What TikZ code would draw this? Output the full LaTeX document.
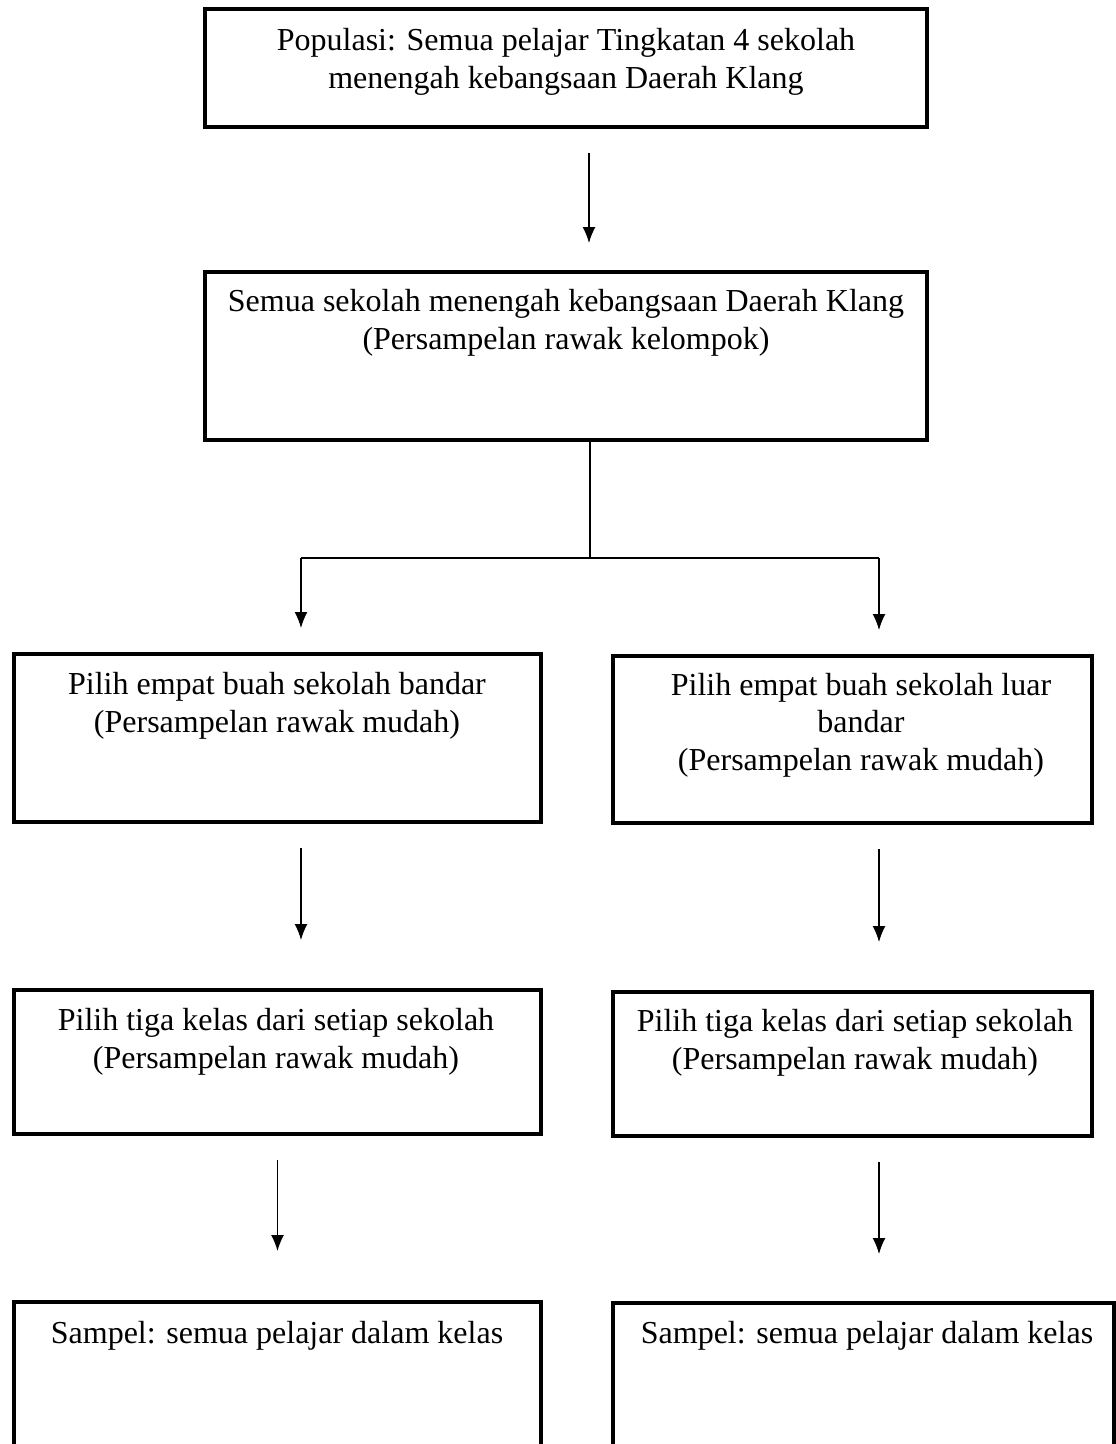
\documentclass[tikz,border=0pt]{standalone}
\usepackage{fontspec}
\setmainfont{Liberation Serif}
\usetikzlibrary{arrows.meta}
\begin{document}
\begin{tikzpicture}[x=1pt,y=-1pt,
  box/.style={draw, line width=4pt, inner sep=0pt},
  txt/.style={align=center, inner sep=0pt, font=\fontsize{32}{37.5}\selectfont},
  arr/.style={line width=1.4pt, -{Latex[length=16pt,width=13pt]}},
  ln/.style={line width=1.4pt}]
\clip (0,0) rectangle (1116,1444);
\fill[white] (0,0) rectangle (1116,1444);
% boxes
\node[box, minimum width=722pt, minimum height=118pt] (b1) at (566,68) {};
\node[box, minimum width=722pt, minimum height=168pt] (b2) at (566,356) {};
\node[box, minimum width=527pt, minimum height=168pt] (b3l) at (277.5,738) {};
\node[box, minimum width=479pt, minimum height=167pt] (b3r) at (852.5,739.5) {};
\node[box, minimum width=527pt, minimum height=144pt] (b4l) at (277.5,1062) {};
\node[box, minimum width=479pt, minimum height=144pt] (b4r) at (852.5,1064) {};
\node[box, minimum width=527pt, minimum height=168pt] (b5l) at (277.5,1386) {};
\node[box, minimum width=501pt, minimum height=168pt] (b5r) at (863.5,1387) {};
% texts
\node[txt] (t1) at (566,62) {Populasi: Semua pelajar Tingkatan 4 sekolah\\menengah kebangsaan Daerah Klang};
\node[txt] (t2) at (566,323) {Semua sekolah menengah kebangsaan Daerah Klang\\(Persampelan rawak kelompok)};
\node[txt] (t3l) at (277,706) {Pilih empat buah sekolah bandar\\(Persampelan rawak mudah)};
\node[txt] (t3r) at (861,725) {Pilih empat buah sekolah luar\\bandar\\(Persampelan rawak mudah)};
\node[txt] (t4l) at (276,1042) {Pilih tiga kelas dari setiap sekolah\\(Persampelan rawak mudah)};
\node[txt] (t4r) at (855,1043) {Pilih tiga kelas dari setiap sekolah\\(Persampelan rawak mudah)};
\node[txt] (t5l) at (277,1336) {Sampel: semua pelajar dalam kelas};
\node[txt] (t5r) at (867,1336) {Sampel: semua pelajar dalam kelas};
% connectors
\coordinate (j) at (590,558);
\coordinate (jl) at (301,558);
\coordinate (jr) at (879,558);
\draw[arr] ([xshift=23pt,yshift=-24pt]b1.south) -- ([xshift=23pt,yshift=27pt]b2.north);
\draw[ln] (b2.south -| j) -- (j);
\draw[ln] (jl) -- (jr);
\draw[arr] (jl) -- ([yshift=24pt]b3l.north -| jl);
\draw[arr] (jr) -- ([yshift=24pt]b3r.north -| jr);
\draw[arr] ([yshift=-24pt]b3l.south -| jl) -- ([yshift=48pt]b4l.north -| jl);
\draw[arr] ([yshift=-24pt]b3r.south -| jr) -- ([yshift=48pt]b4r.north -| jr);
\draw[arr] ([yshift=-24pt]b4l.south) -- ([yshift=49pt]b5l.north);
\draw[arr] ([yshift=-24pt]b4r.south -| jr) -- ([yshift=47pt]b5r.north -| jr);
\end{tikzpicture}
\end{document}
